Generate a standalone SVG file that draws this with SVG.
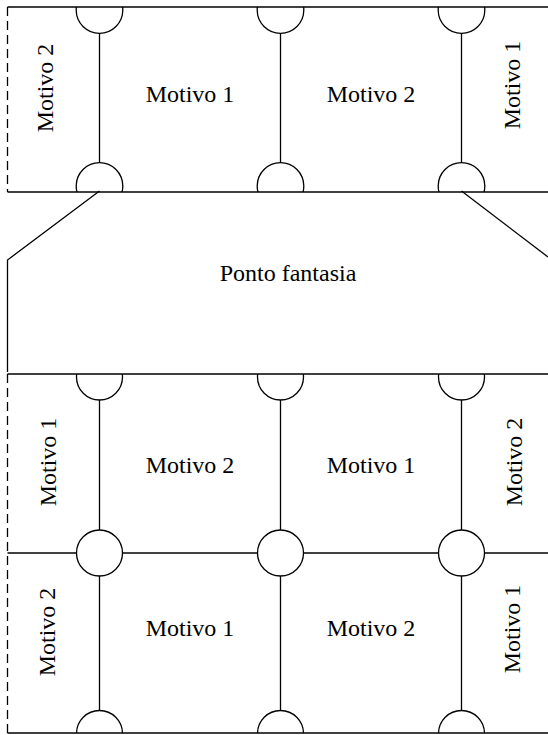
<svg xmlns="http://www.w3.org/2000/svg" width="548" height="735" viewBox="0 0 548 735">
<style>
.ln{stroke:#000;stroke-width:1.3;fill:none}
.ds{stroke:#000;stroke-width:1.3;fill:none;stroke-dasharray:9,5}
.cf{stroke:#000;stroke-width:1.3;fill:#fff}
.t{font-family:"Liberation Serif","Times New Roman",serif;font-size:24px;fill:#000;text-anchor:middle}
</style>
<defs>
<clipPath id="cTop"><rect x="0" y="7" width="548" height="185"/></clipPath>
<clipPath id="cBot"><rect x="0" y="374" width="548" height="359"/></clipPath>
</defs>
<rect width="548" height="735" fill="#fff"/>

<g id="connectors">
<!-- top strip -->
<line class="ln" x1="7.5" y1="7" x2="548" y2="7"/>
<line class="ln" x1="7.5" y1="192" x2="548" y2="192"/>
<line class="ds" x1="7.5" y1="7" x2="7.5" y2="192"/>
<line class="ln" x1="99.5" y1="33" x2="99.5" y2="163"/>
<line class="ln" x1="280.5" y1="33" x2="280.5" y2="163"/>
<line class="ln" x1="461.5" y1="33" x2="461.5" y2="163"/>
<g clip-path="url(#cTop)">
<circle class="ln" cx="99.5" cy="10" r="23.3"/>
<circle class="ln" cx="280.5" cy="10" r="23.3"/>
<circle class="ln" cx="461.5" cy="10" r="23.3"/>
<circle class="ln" cx="99.5" cy="186" r="23.3"/>
<circle class="ln" cx="280.5" cy="186" r="23.3"/>
<circle class="ln" cx="461.5" cy="186" r="23.3"/>
</g>
<!-- middle strip -->
<polyline class="ln" points="99.5,191 7.5,260 7.5,372"/>
<line class="ln" x1="461.5" y1="191" x2="548" y2="257"/>
<!-- bottom strip -->
<line class="ln" x1="7.5" y1="374" x2="548" y2="374"/>
<line class="ln" x1="7.5" y1="733" x2="548" y2="733"/>
<line class="ds" x1="7.5" y1="374" x2="7.5" y2="733"/>
<line class="ln" x1="7.5" y1="553" x2="548" y2="553"/>
<line class="ln" x1="99.5" y1="400" x2="99.5" y2="711"/>
<line class="ln" x1="280.5" y1="400" x2="280.5" y2="711"/>
<line class="ln" x1="461.5" y1="400" x2="461.5" y2="711"/>
<g clip-path="url(#cBot)">
<circle class="ln" cx="99.5" cy="377" r="23"/>
<circle class="ln" cx="280.5" cy="377" r="23"/>
<circle class="ln" cx="461.5" cy="377" r="23"/>
<circle class="ln" cx="99.5" cy="733.5" r="23"/>
<circle class="ln" cx="280.5" cy="733.5" r="23"/>
<circle class="ln" cx="461.5" cy="733.5" r="23"/>
</g>
</g>

<g id="node-joint-1"><circle class="cf" cx="99.5" cy="553" r="23"/></g>
<g id="node-joint-2"><circle class="cf" cx="280.5" cy="553" r="23"/></g>
<g id="node-joint-3"><circle class="cf" cx="461.5" cy="553" r="23"/></g>

<g id="labels-top">
<text class="t" transform="translate(53,88) rotate(-90)">Motivo 2</text>
<text class="t" x="190" y="101.5">Motivo 1</text>
<text class="t" x="371" y="101.5">Motivo 2</text>
<text class="t" transform="translate(520,85) rotate(-90)">Motivo 1</text>
</g>
<g id="label-middle">
<text class="t" x="288" y="281">Ponto fantasia</text>
</g>
<g id="labels-bottom">
<text class="t" transform="translate(56,462) rotate(-90)">Motivo 1</text>
<text class="t" x="190" y="473">Motivo 2</text>
<text class="t" x="371" y="473">Motivo 1</text>
<text class="t" transform="translate(522,462) rotate(-90)">Motivo 2</text>
<text class="t" transform="translate(55,632) rotate(-90)">Motivo 2</text>
<text class="t" x="190" y="636">Motivo 1</text>
<text class="t" x="371" y="636">Motivo 2</text>
<text class="t" transform="translate(520,629) rotate(-90)">Motivo 1</text>
</g>
</svg>
